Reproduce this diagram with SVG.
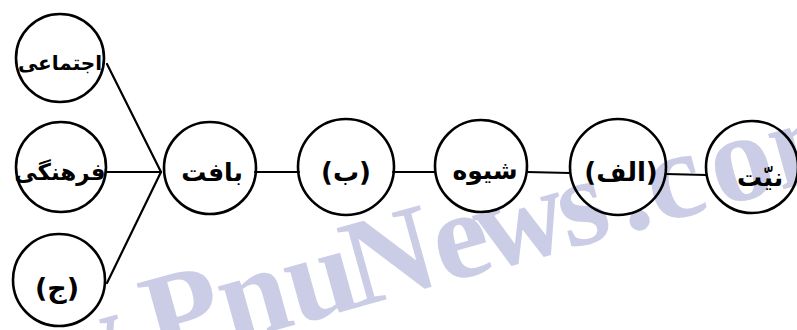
<svg xmlns="http://www.w3.org/2000/svg" width="797" height="330" viewBox="0 0 797 330">
  <style>
    .node circle { fill: none; stroke: #000; stroke-width: 2.6; }
    .node text { font-family: "DejaVu Sans", sans-serif; font-weight: bold; font-size: 25px; fill: #000; text-anchor: middle; direction: rtl; }
    #connectors line { stroke: #000; stroke-width: 2.2; stroke-linecap: round; }
    .mark { font-family: "Liberation Serif", "Times New Roman", serif; font-weight: bold; font-size: 125px; fill: #cbcde6; }
  </style>
  <rect width="797" height="330" fill="#fff"/>

  <!-- site watermark behind the drawing -->
  <text class="mark" transform="translate(-128,442) rotate(-15.5)">www.Pnu<tspan dx="-8">N</tspan>e<tspan dx="-10">w</tspan><tspan dx="-6">s</tspan><tspan dx="12">.</tspan>c<tspan dx="10">o</tspan>m</text>

  <g id="connectors">
    <line x1="107" y1="64" x2="161" y2="172"/>
    <line x1="106" y1="172" x2="161" y2="172"/>
    <line x1="107" y1="283" x2="161" y2="172"/>
    <line x1="255" y1="172" x2="299" y2="172"/>
    <line x1="393" y1="172" x2="435" y2="172"/>
    <line x1="527" y1="172" x2="570" y2="173"/>
    <line x1="666" y1="174" x2="706" y2="175"/>
  </g>

  <g id="node-ejtemai" class="node">
    <circle cx="60" cy="58" r="44"/>
    <text x="60" y="70" style="font-size:20px">اجتماعی</text>
  </g>
  <g id="node-farhangi" class="node">
    <circle cx="61" cy="167" r="45"/>
    <text x="60" y="180" style="font-size:23px">فرهنگی</text>
  </g>
  <g id="node-j" class="node">
    <circle cx="59" cy="280" r="46"/>
    <text x="57" y="297" style="font-size:27px">(ج)</text>
  </g>
  <g id="node-baft" class="node">
    <circle cx="210" cy="168" r="46"/>
    <text x="212" y="181">بافت</text>
  </g>
  <g id="node-b" class="node">
    <circle cx="346" cy="167" r="48"/>
    <text x="346" y="181" style="font-size:26px">(ب)</text>
  </g>
  <g id="node-shiveh" class="node">
    <circle cx="481" cy="166" r="46"/>
    <text x="485" y="179">شیوه</text>
  </g>
  <g id="node-alef" class="node">
    <circle cx="618" cy="167" r="48"/>
    <text x="621" y="181" style="font-size:26px">(الف)</text>
  </g>
  <g id="node-niyat" class="node">
    <circle cx="752" cy="167" r="46"/>
    <text x="760" y="186">نیّت</text>
  </g>
</svg>
